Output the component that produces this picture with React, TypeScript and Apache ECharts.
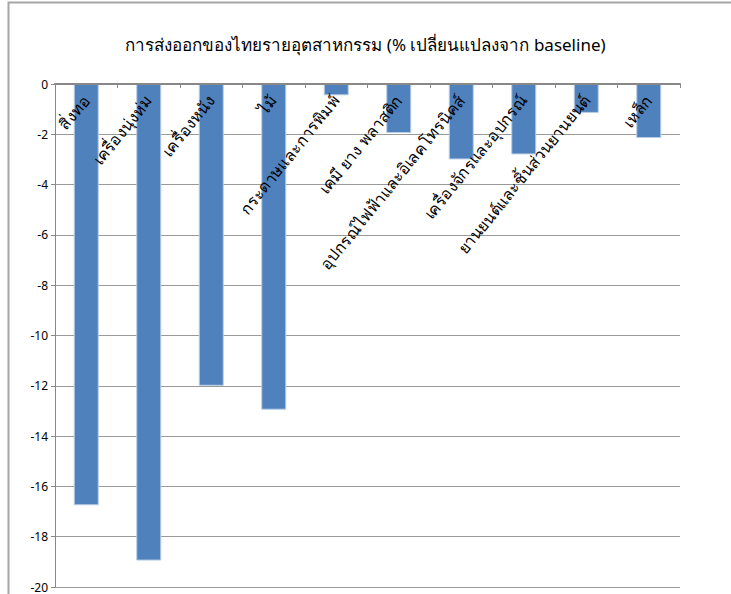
import React, { useEffect, useRef } from "react";
import * as echarts from "echarts";

const TITLE = "การส่งออกของไทยรายอุตสาหกรรม (% เปลี่ยนแปลงจาก baseline)";
const categories = [
  "สิ่งทอ",
  "เครื่องนุ่งห่ม",
  "เครื่องหนัง",
  "ไม้",
  "กระดาษและการพิมพ์",
  "เคมี ยาง พลาสติก",
  "อุปกรณ์ไฟฟ้าและอิเลคโทรนิคส์",
  "เครื่องจักรและอุปกรณ์",
  "ยานยนต์และชิ้นส่วนยานยนต์",
  "เหล็ก",
];
const values = [-16.75, -18.95, -12.0, -12.95, -0.45, -1.95, -3.0, -2.8, -1.15, -2.15];
const yMin = -20;
const yMax = 0;
const yInterval = 2;

const FONT = "'Noto Sans', 'DejaVu Sans', sans-serif";

export default function App() {
  const ref = useRef<HTMLDivElement>(null);
  useEffect(() => {
    if (!ref.current) return;
    const chart = echarts.init(ref.current, null, { renderer: "svg" });
    chart.setOption({
      animation: false,
      backgroundColor: "#ffffff",
      title: {
        text: TITLE,
        left: "center",
        top: 31,
        textStyle: { fontFamily: FONT, fontSize: 17, fontWeight: "normal", color: "#000" },
      },
      graphic: [
        {
          type: "rect",
          shape: { x: 8.5, y: 2.5, width: 900, height: 900 },
          style: { fill: "none", stroke: "#a6a6a6", lineWidth: 2 },
        },
      ],
      grid: { left: 55, right: 51, top: 84, bottom: 7, containLabel: false },
      xAxis: {
        type: "category",
        data: categories,
        position: "top",
        axisLine: { onZero: false, lineStyle: { color: "#888", width: 2 } },
        axisTick: { show: true, inside: true, length: 4, lineStyle: { color: "#888" } },
        axisLabel: {
          inside: true,
          rotate: -51,
          interval: 0,
          margin: 13,
          fontFamily: FONT,
          fontSize: 16,
          color: "#000",
        },
        z: 10,
      },
      yAxis: {
        type: "value",
        min: yMin,
        max: yMax,
        interval: yInterval,
        axisLine: { show: true, lineStyle: { color: "#888", width: 1 } },
        axisTick: { show: true, length: 4, lineStyle: { color: "#888" } },
        axisLabel: { fontFamily: FONT, fontSize: 12, color: "#000", margin: 7 },
        splitLine: { show: true, lineStyle: { color: "#999", width: 1 } },
      },
      series: [
        {
          type: "bar",
          data: values,
          barWidth: "40%",
          itemStyle: { color: "#4F81BD", borderColor: "#B9CDE5", borderWidth: 1 },
        },
      ],
    });
    return () => chart.dispose();
  }, []);
  return (
    <div
      ref={ref}
      style={{ position: "fixed", left: 0, top: 0, width: 731, height: 594 }}
    />
  );
}
